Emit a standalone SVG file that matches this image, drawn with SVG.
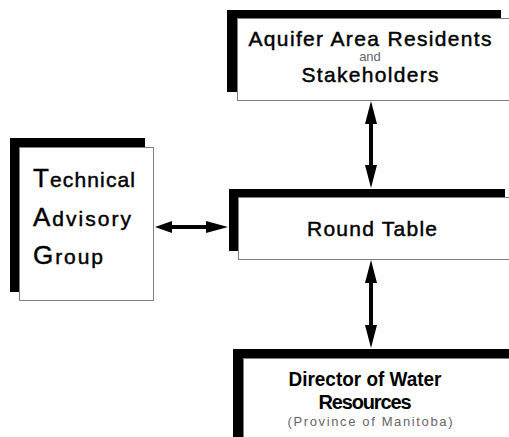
<svg xmlns="http://www.w3.org/2000/svg" width="509" height="437" viewBox="0 0 509 437">
<style>
.sh{fill:#000}
.bx{fill:#fff;stroke:#808080;stroke-width:1}
.t{font-family:"Liberation Sans",Arial,sans-serif;fill:#000}
.m{font-size:21px;stroke:#000;stroke-width:0.45}
.b{font-size:20px;font-weight:bold}
.s{font-size:13px;fill:#666}
.cap{font-size:26px}
.ln{stroke:#000;stroke-width:4;fill:none}
.hd{fill:#000}
</style>
<rect width="509" height="437" fill="#fff"/>
<g id="residents">
<rect class="sh" x="227" y="10" width="274" height="82"/>
<rect class="bx" x="237.5" y="18.5" width="280" height="82"/>
<text class="t m" x="370" y="46" text-anchor="middle" textLength="243" lengthAdjust="spacing">Aquifer Area Residents</text>
<text class="t s" x="370" y="61" text-anchor="middle" font-size="13" style="font-size:13px">and</text>
<text class="t m" x="370" y="82" text-anchor="middle" textLength="137" lengthAdjust="spacing">Stakeholders</text>
</g>
<g id="tag">
<rect class="sh" x="10" y="138" width="135" height="154"/>
<rect class="bx" x="19.5" y="147.5" width="134" height="153"/>
<text class="t m" x="33" y="187" textLength="102" lengthAdjust="spacing"><tspan class="cap">T</tspan>echnical</text>
<text class="t m" x="33" y="226" textLength="98" lengthAdjust="spacing"><tspan class="cap">A</tspan>dvisory</text>
<text class="t m" x="33" y="264" textLength="70" lengthAdjust="spacing"><tspan class="cap">G</tspan>roup</text>
</g>
<g id="roundtable">
<rect class="sh" x="229" y="189" width="276" height="62"/>
<rect class="bx" x="238.5" y="197.5" width="280" height="62"/>
<text class="t m" x="372" y="236" text-anchor="middle" textLength="130" lengthAdjust="spacing">Round Table</text>
</g>
<g id="director">
<rect class="sh" x="233" y="349" width="280" height="100"/>
<rect class="bx" x="243.5" y="358.5" width="280" height="100"/>
<text class="t b" x="365" y="386" text-anchor="middle" textLength="153" lengthAdjust="spacingAndGlyphs">Director of Water</text>
<text class="t b" x="365" y="409" text-anchor="middle" textLength="93" lengthAdjust="spacing">Resources</text>
<text class="t s" x="370" y="426" text-anchor="middle" textLength="165" lengthAdjust="spacing">(Province of Manitoba)</text>
</g>
<g id="connectors">
<line class="ln" x1="371" y1="118" x2="371" y2="172"/>
<polygon class="hd" points="371,101 365,124 377,124"/>
<polygon class="hd" points="371,188 365,165 377,165"/>
<line class="ln" x1="371" y1="277" x2="371" y2="332"/>
<polygon class="hd" points="371,260 365,283 377,283"/>
<polygon class="hd" points="371,348 365,325 377,325"/>
<line class="ln" x1="168" y1="227" x2="212" y2="227"/>
<polygon class="hd" points="155,227 172,221 172,233"/>
<polygon class="hd" points="228,227 206,221 206,233"/>
</g>
</svg>
